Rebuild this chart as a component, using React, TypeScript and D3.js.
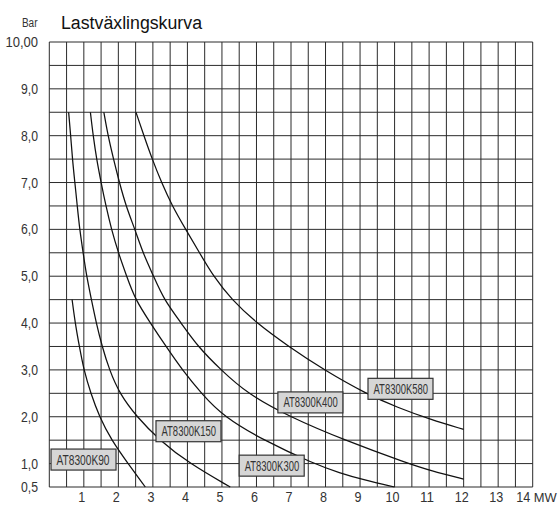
import React from "react";
import * as d3 from "d3";

const title = "Lastväxlingskurva";
const yUnit = "Bar";
const xUnit = "MW";

const xTicks = [1, 2, 3, 4, 5, 6, 7, 8, 9, 10, 11, 12, 13, 14];
const yTicks = [0.5, 1, 2, 3, 4, 5, 6, 7, 8, 9, 10];
const yTickLabels = ["0,5", "1,0", "2,0", "3,0", "4,0", "5,0", "6,0", "7,0", "8,0", "9,0", "10,00"];

const seriesNames = ["AT8300K90", "AT8300K150", "AT8300K300", "AT8300K400", "AT8300K580"];

// [MW, Bar]
const k90: [number, number][] = [
  [0.66, 4.5], [0.75, 4.0], [0.87, 3.5], [1.0, 3.0], [1.2, 2.5], [1.45, 2.0], [1.8, 1.5], [2.28, 1.0], [2.78, 0.5],
];
const k150: [number, number][] = [
  [0.56, 8.5], [0.62, 8.0], [0.67, 7.5], [0.74, 7.0], [0.81, 6.5], [0.88, 6.0], [0.98, 5.5], [1.08, 5.0], [1.22, 4.5],
  [1.36, 4.0], [1.53, 3.5], [1.74, 3.0], [2.03, 2.5], [2.53, 2.0], [3.19, 1.5], [4.06, 1.0], [5.24, 0.5],
];
const k300: [number, number][] = [
  [1.19, 8.5], [1.27, 8.0], [1.37, 7.5], [1.5, 7.0], [1.64, 6.5], [1.8, 6.0], [2.0, 5.5], [2.24, 5.0], [2.49, 4.5],
  [2.93, 4.0], [3.38, 3.5], [3.85, 3.0], [4.4, 2.5], [5.05, 2.0], [6.2, 1.5], [7.65, 1.0], [8.41, 0.8], [9.11, 0.65], [10.0, 0.5],
];
const k400: [number, number][] = [
  [1.58, 8.5], [1.7, 8.0], [1.86, 7.5], [2.03, 7.0], [2.22, 6.5], [2.48, 6.0], [2.71, 5.5], [3.02, 5.0], [3.32, 4.5],
  [3.82, 4.0], [4.3, 3.5], [4.97, 3.0], [5.72, 2.5], [6.95, 2.0], [8.55, 1.5], [10.4, 1.0], [11.04, 0.85], [12.0, 0.67],
];
const k580: [number, number][] = [
  [2.51, 8.5], [2.74, 8.0], [2.98, 7.5], [3.25, 7.0], [3.56, 6.5], [3.95, 6.0], [4.35, 5.5], [4.75, 5.0], [5.28, 4.5],
  [6.0, 4.0], [6.93, 3.5], [7.95, 3.0], [9.2, 2.48], [10.08, 2.2], [11.04, 1.94], [12.0, 1.73],
];
const seriesData = [k90, k150, k300, k400, k580];

// label box anchor (left, top) in data units
const labelAnchors: [number, number][] = [
  [0.05, 1.31], [3.09, 1.915], [5.5, 1.18], [6.62, 2.53], [9.23, 2.82],
];

const FONT = "'Liberation Sans', Arial, sans-serif";

export default function App() {
  const W = 560, H = 506;
  const x = d3.scaleLinear().domain([0, 14]).range([49.3, 532.7]);
  const y = d3.scaleLinear().domain([0.5, 10]).range([487, 42]);

  const gridX = d3.range(0, 14.001, 0.5);
  const gridY = d3.range(0.5, 10.001, 0.5);

  const line = d3
    .line<[number, number]>()
    .x((d) => x(d[0]))
    .y((d) => y(d[1]))
    .curve(d3.curveBasis);

  const lastTick = xTicks[xTicks.length - 1];

  return (
    <svg width={W} height={H} style={{ position: "absolute", left: 0, top: 0, background: "#fff" }} fontFamily={FONT}>
      <rect x={0} y={0} width={W} height={H} fill="#fff" />
      {gridX.map((v) => (
        <line key={"gx" + v} x1={x(v)} x2={x(v)} y1={y(0.5)} y2={y(10)} stroke="#2b2b2b" strokeWidth={1} />
      ))}
      {gridY.map((v) => (
        <line key={"gy" + v} x1={x(0)} x2={x(14)} y1={y(v)} y2={y(v)} stroke="#2b2b2b" strokeWidth={1} />
      ))}
      {seriesData.map((s, i) => (
        <path key={"s" + i} d={line(s) || ""} fill="none" stroke="#111" strokeWidth={1.25} />
      ))}
      {labelAnchors.map((a, i) => (
        <g key={"l" + i} transform={`translate(${x(a[0])},${y(a[1])})`}>
          <rect x={0} y={0} width={65} height={21} fill="#d6d6d6" stroke="#333" strokeWidth={1.2} />
          <text
            x={5.5}
            y={15.5}
            fontSize={14.5}
            fill="#333"
            textLength={i === 0 ? 53 : 54.5}
            lengthAdjust="spacingAndGlyphs"
          >
            {seriesNames[i]}
          </text>
        </g>
      ))}
      {yTicks.map((v, i) => (
        <text key={"yt" + v} x={38} y={y(v) + 5} textAnchor="end" fontSize={14} fill="#333"
          textLength={yTickLabels[i].length === 5 ? 32.5 : 17} lengthAdjust="spacingAndGlyphs">
          {yTickLabels[i]}
        </text>
      ))}
      {xTicks.map((v) => (
        <text key={"xt" + v} x={v === lastTick ? x(v) - 9.5 : x(v) - 2} y={502} textAnchor="middle" fontSize={14} fill="#333"
          textLength={v >= 10 ? 14 : 7} lengthAdjust="spacingAndGlyphs">
          {v}
        </text>
      ))}
      <text x={x(lastTick) + 1} y={502} textAnchor="start" fontSize={13.5} fill="#333"
        textLength={23} lengthAdjust="spacingAndGlyphs">
        {xUnit}
      </text>
      <text x={37.5} y={27} textAnchor="end" fontSize={12} fill="#333" textLength={15.6} lengthAdjust="spacingAndGlyphs">
        {yUnit}
      </text>
      <text x={61} y={28.5} fontSize={18} fill="#111" textLength={141} lengthAdjust="spacingAndGlyphs">
        {title}
      </text>
    </svg>
  );
}
